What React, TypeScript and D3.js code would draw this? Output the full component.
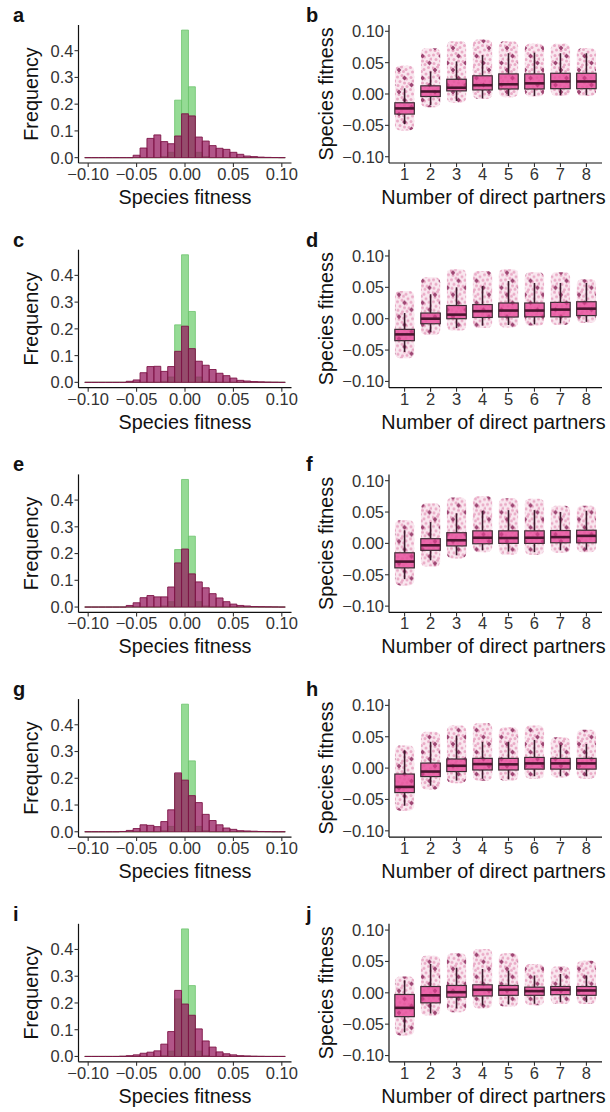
import React from "react";
import * as d3 from "d3";

// ---------- DATA ----------
// histogram bins centred at k*0.1/14, k = -14..14
const binK = d3.range(-14, 15);
const nullFreq = [0,0,0,0,0,0,0,0,0,0,0,0.004,0.02,0.215,0.477,0.265,0.02,0.004,0,0,0,0,0,0,0,0,0,0,0];
const histA = [0,0,0,0,0,0,0,0.009,0.036,0.072,0.085,0.06,0.052,0.081,0.164,0.156,0.077,0.062,0.045,0.035,0.031,0.02,0.0125,0.006,0.004,0.002,0.001,0.0005,0];
const histC = [0,0,0,0,0,0,0.004,0.009,0.036,0.059,0.06,0.041,0.059,0.116,0.21,0.126,0.079,0.064,0.048,0.034,0.025,0.016,0.0075,0.005,0.003,0.002,0.001,0.0005,0];
const histE = [0,0,0,0,0,0,0.006,0.016,0.035,0.043,0.038,0.038,0.075,0.165,0.217,0.124,0.094,0.072,0.05,0.034,0.02,0.011,0.006,0.004,0.002,0.0015,0.001,0.0005,0];
const histG = [0,0,0,0,0,0.001,0.005,0.012,0.026,0.024,0.019,0.038,0.082,0.22,0.193,0.135,0.109,0.065,0.042,0.026,0.014,0.009,0.004,0.003,0.002,0.001,0.0005,0,0];
const histI = [0,0,0,0,0,0.001,0.003,0.006,0.012,0.016,0.021,0.046,0.093,0.247,0.196,0.154,0.103,0.058,0.035,0.017,0.01,0.006,0.003,0.002,0.001,0.0005,0,0,0];

const partners = ["1","2","3","4","5","6","7","8"];
// [whiskerLow, q1, median, q3, whiskerHigh, pointMin, pointMax]
const boxB = [
  [-0.048,-0.032,-0.023,-0.014,0.009,-0.058,0.045],
  [-0.018,-0.004,0.004,0.013,0.036,-0.021,0.073],
  [-0.011,0.005,0.010,0.0235,0.052,-0.014,0.084],
  [-0.007,0.0065,0.014,0.029,0.062,-0.008,0.087],
  [-0.003,0.008,0.0155,0.032,0.065,-0.005,0.084],
  [-0.003,0.008,0.017,0.032,0.066,-0.004,0.080],
  [-0.002,0.0085,0.020,0.033,0.065,-0.003,0.080],
  [-0.002,0.0085,0.020,0.033,0.065,-0.003,0.073],
];
const boxD = [
  [-0.053,-0.035,-0.025,-0.017,0.009,-0.063,0.044],
  [-0.021,-0.008,0.000,0.009,0.039,-0.026,0.066],
  [-0.015,0.000,0.0065,0.021,0.050,-0.019,0.079],
  [-0.011,0.002,0.012,0.0225,0.052,-0.015,0.076],
  [-0.010,0.0027,0.013,0.025,0.060,-0.014,0.079],
  [-0.009,0.003,0.013,0.025,0.057,-0.011,0.074],
  [-0.0075,0.003,0.0145,0.026,0.057,-0.010,0.074],
  [-0.005,0.005,0.016,0.027,0.057,-0.007,0.063],
];
const boxF = [
  [-0.057,-0.039,-0.029,-0.015,0.021,-0.067,0.037],
  [-0.027,-0.011,-0.003,0.0075,0.034,-0.037,0.064],
  [-0.019,-0.004,0.005,0.017,0.048,-0.024,0.073],
  [-0.011,-0.0005,0.009,0.020,0.052,-0.014,0.075],
  [-0.013,0.000,0.0086,0.020,0.053,-0.018,0.072],
  [-0.014,0.000,0.009,0.020,0.053,-0.018,0.071],
  [-0.011,0.001,0.010,0.0205,0.050,-0.015,0.060],
  [-0.010,0.001,0.012,0.021,0.052,-0.014,0.060],
];
const boxH = [
  [-0.060,-0.039,-0.030,-0.0095,0.028,-0.068,0.036],
  [-0.028,-0.0135,-0.0055,0.008,0.042,-0.034,0.058],
  [-0.020,-0.0055,0.0037,0.0145,0.052,-0.024,0.068],
  [-0.017,-0.003,0.0064,0.0155,0.042,-0.020,0.072],
  [-0.018,-0.003,0.006,0.0155,0.042,-0.020,0.065],
  [-0.013,-0.0016,0.0075,0.017,0.045,-0.017,0.068],
  [-0.013,-0.0016,0.0075,0.0155,0.037,-0.015,0.049],
  [-0.013,-0.0016,0.0075,0.0155,0.0385,-0.017,0.061],
];
const boxJ = [
  [-0.063,-0.038,-0.024,-0.0027,0.020,-0.068,0.026],
  [-0.033,-0.016,-0.004,0.010,0.046,-0.036,0.059],
  [-0.025,-0.007,0.001,0.0117,0.040,-0.031,0.063],
  [-0.020,-0.005,0.0048,0.0127,0.038,-0.025,0.070],
  [-0.0185,-0.004,0.0048,0.0117,0.0355,-0.022,0.063],
  [-0.0175,-0.004,0.0027,0.009,0.0276,-0.020,0.046],
  [-0.015,-0.003,0.0048,0.010,0.030,-0.018,0.042],
  [-0.015,-0.004,0.0037,0.010,0.0276,-0.018,0.051],
];

const histTicksX = [-0.1, -0.05, 0, 0.05, 0.1];
const histTickLabelsX = ["\u22120.10", "\u22120.05", "0.00", "0.05", "0.10"];
const histTicksY = [0, 0.1, 0.2, 0.3, 0.4];
const histTickLabelsY = ["0.0", "0.1", "0.2", "0.3", "0.4"];
const boxTicksY = [-0.1, -0.05, 0, 0.05, 0.1];
const boxTickLabelsY = ["\u22120.10", "\u22120.05", "0.00", "0.05", "0.10"];

const rows = [
  { left: "a", right: "b", hist: histA, box: boxB },
  { left: "c", right: "d", hist: histC, box: boxD },
  { left: "e", right: "f", hist: histE, box: boxF },
  { left: "g", right: "h", hist: histG, box: boxH },
  { left: "i", right: "j", hist: histI, box: boxJ },
];

// ---------- LAYOUT ----------
const W = 610, H = 1112;
const ROW = 224.7;
const TOP = 25, AXY = 163;
const FONT = "'Liberation Sans', Arial, Helvetica, sans-serif";
const TICK_FS = 16.5;
const TITLE_FS = 19.8;
const binW = 0.1 / 14;

const xHist = d3.scaleLinear().domain([-0.11, 0.11]).range([78.5, 291.5]);
const yHist = d3.scaleLinear().domain([-0.02, 0.496]).range([AXY, TOP]);
const xBox = d3.scaleLinear().domain([0.4, 8.6]).range([389, 602]);
const yBox = d3.scaleLinear().domain([-0.11, 0.11]).range([AXY, TOP]);

function barPath(k: number, v: number) {
  const c = k * binW;
  const x0 = xHist(c - binW / 2), x1 = xHist(c + binW / 2);
  const y0 = yHist(0), y1 = yHist(v);
  return `M${x0},${y0}V${y1}H${x1}V${y0}Z`;
}

function Hist({ data, oy, letter }: { data: number[]; oy: number; letter: string }) {
  const axX = xHist.range()[0];
  return (
    <g transform={`translate(0,${oy})`}>
      <text x={13} y={22} fontSize={20} fontWeight="bold" fill="#111">{letter}</text>
      {binK.map((k, i) => (
        <path key={"g" + k} d={barPath(k, nullFreq[i])} fill="#5cc85c" fillOpacity={0.65} stroke="#6fc46f" strokeWidth={0.8} />
      ))}
      {binK.map((k, i) => (
        <path key={"p" + k} d={barPath(k, data[i])} fill="#961a5e" fillOpacity={0.74} stroke="#7d1446" strokeWidth={0.9} />
      ))}
      <line x1={axX} x2={xHist.range()[1]} y1={AXY} y2={AXY} stroke="#111" strokeWidth={1.2} />
      <line x1={axX} x2={axX} y1={TOP} y2={AXY} stroke="#111" strokeWidth={1.2} />
      {histTicksX.map((t, i) => (
        <g key={"xt" + i}>
          <line x1={xHist(t)} x2={xHist(t)} y1={AXY} y2={AXY + 4} stroke="#333" strokeWidth={1.1} />
          <text x={xHist(t)} y={AXY + 17} textAnchor="middle" fontSize={TICK_FS} fill="#333">{histTickLabelsX[i]}</text>
        </g>
      ))}
      {histTicksY.map((t, i) => (
        <g key={"yt" + i}>
          <line x1={axX - 4} x2={axX} y1={yHist(t)} y2={yHist(t)} stroke="#333" strokeWidth={1.1} />
          <text x={axX - 5} y={yHist(t)} dy="0.36em" textAnchor="end" fontSize={TICK_FS} fill="#333">{histTickLabelsY[i]}</text>
        </g>
      ))}
      <text x={(xHist.range()[0] + xHist.range()[1]) / 2} y={AXY + 41} textAnchor="middle" fontSize={TITLE_FS} fill="#111">Species fitness</text>
      <text transform={`translate(38,${(TOP + AXY) / 2}) rotate(-90)`} textAnchor="middle" fontSize={TITLE_FS} fill="#111">Frequency</text>
    </g>
  );
}

function Box({ data, oy, letter }: { data: number[][]; oy: number; letter: string }) {
  const axX = xBox.range()[0];
  const bw = 0.75, cw = 0.74;
  return (
    <g transform={`translate(0,${oy})`}>
      <text x={306} y={22} fontSize={20} fontWeight="bold" fill="#111">{letter}</text>
      {data.map((s, i) => {
        const c = i + 1;
        const [wl, q1, md, q3, wh, pmin, pmax] = s;
        const cx = xBox(c);
        const cx0 = xBox(c - cw / 2), cx1 = xBox(c + cw / 2);
        const bx0 = xBox(c - bw / 2), bx1 = xBox(c + bw / 2);
        return (
          <g key={i}>
            <rect x={cx0} y={yBox(pmax)} width={cx1 - cx0} height={yBox(pmin) - yBox(pmax)} rx={5} fill="#f4d3e1" fillOpacity={0.55} />
            <rect x={cx0} y={yBox(pmax)} width={cx1 - cx0} height={yBox(pmin) - yBox(pmax)} rx={5} fill="url(#jit)" />
            <line x1={cx} x2={cx} y1={yBox(wh)} y2={yBox(q3)} stroke="#3a1a2c" strokeWidth={1.6} />
            <line x1={cx} x2={cx} y1={yBox(q1)} y2={yBox(wl)} stroke="#3a1a2c" strokeWidth={1.6} />
            <rect x={bx0} y={yBox(q3)} width={bx1 - bx0} height={yBox(q1) - yBox(q3)} fill="#e8479a" fillOpacity={0.8} stroke="#3a2a32" strokeWidth={1.2} />
            <rect x={bx0} y={yBox(q3)} width={bx1 - bx0} height={yBox(q1) - yBox(q3)} fill="url(#jit)" opacity={0.3} />
            <line x1={bx0} x2={bx1} y1={yBox(md)} y2={yBox(md)} stroke="#4a1530" strokeWidth={2.6} />
          </g>
        );
      })}
      <line x1={axX} x2={xBox.range()[1]} y1={AXY} y2={AXY} stroke="#111" strokeWidth={1.2} />
      <line x1={axX} x2={axX} y1={TOP} y2={AXY} stroke="#111" strokeWidth={1.2} />
      {partners.map((p, i) => (
        <g key={"xt" + i}>
          <line x1={xBox(i + 1)} x2={xBox(i + 1)} y1={AXY} y2={AXY + 4} stroke="#333" strokeWidth={1.1} />
          <text x={xBox(i + 1)} y={AXY + 17} textAnchor="middle" fontSize={TICK_FS} fill="#333">{p}</text>
        </g>
      ))}
      {boxTicksY.map((t, i) => (
        <g key={"yt" + i}>
          <line x1={axX - 4} x2={axX} y1={yBox(t)} y2={yBox(t)} stroke="#333" strokeWidth={1.1} />
          <text x={axX - 5} y={yBox(t)} dy="0.36em" textAnchor="end" fontSize={TICK_FS} fill="#333">{boxTickLabelsY[i]}</text>
        </g>
      ))}
      <text x={(xBox.range()[0] + xBox.range()[1]) / 2 - 2} y={AXY + 41} textAnchor="middle" fontSize={TITLE_FS} fill="#111">Number of direct partners</text>
      <text transform={`translate(333,${(TOP + AXY) / 2}) rotate(-90)`} textAnchor="middle" fontSize={TITLE_FS} fill="#111">Species fitness</text>
    </g>
  );
}

// jitter texture tile (style only)
const lightDots = [[1,2],[5.5,1],[10,3.5],[14.5,1.5],[3,6.5],[7.5,5.5],[12,8],[16.5,6],[1.5,11],[6,9.5],[10.5,13],[15,11.5],[4,15.5],[8.5,17],[13,17.5],[17,15],[2,19.5],[11,20.5],[6.5,21]];
const darkDots = [[8.5,12],[3,4],[15.5,19]];

export default function App() {
  return (
    <svg width={W} height={H} style={{ position: "absolute", left: 0, top: 0, background: "#fff" }} fontFamily={FONT}>
      <defs>
        <pattern id="jit" patternUnits="userSpaceOnUse" width={18} height={22}>
          {lightDots.map((d, i) => (
            <circle key={i} cx={d[0]} cy={d[1]} r={1.5} fill="#dc7aa6" fillOpacity={0.55} />
          ))}
          {darkDots.map((d, i) => (
            <path key={"d" + i} d={`M${d[0]},${d[1] - 2.4}L${d[0] + 2.4},${d[1]}L${d[0]},${d[1] + 2.4}L${d[0] - 2.4},${d[1]}Z`} fill="#8e2a5d" fillOpacity={0.85} />
          ))}
        </pattern>
      </defs>
      <rect width={W} height={H} fill="#fff" />
      {rows.map((r, i) => (
        <g key={i}>
          <Hist data={r.hist} oy={i * ROW} letter={r.left} />
          <Box data={r.box} oy={i * ROW} letter={r.right} />
        </g>
      ))}
    </svg>
  );
}
